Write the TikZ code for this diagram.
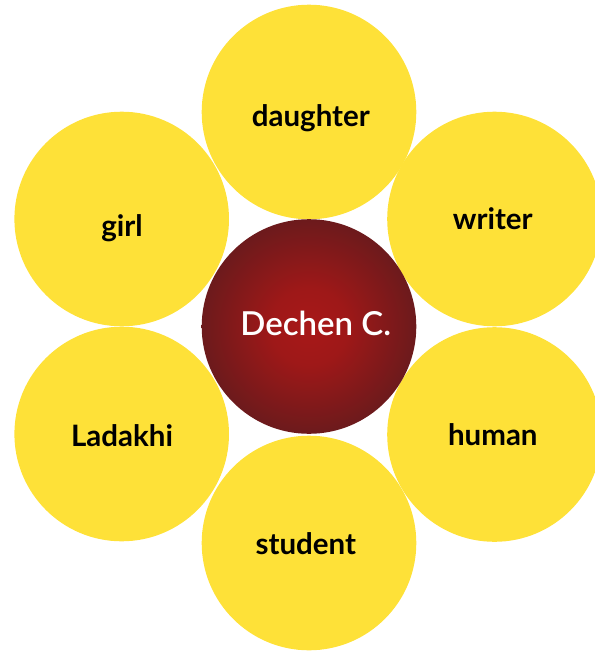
\documentclass[tikz,border=0pt]{standalone}
\usepackage{fontspec}
\setmainfont{Lato}
\newfontfamily\latosemi{Lato Semibold}
\definecolor{petal}{RGB}{254,225,56}
\definecolor{coreIn}{RGB}{168,24,24}
\definecolor{coreMid}{RGB}{158,24,24}
\definecolor{coreOut}{RGB}{108,26,28}
\pgfdeclareradialshading{coreshade}{\pgfpoint{0bp}{0bp}}{color(0bp)=(coreIn); color(9bp)=(coreMid); color(25bp)=(coreOut); color(50bp)=(coreOut)}
\tikzset{
  petalc/.style={circle, fill=petal, minimum size=214.6pt, inner sep=0pt},
  corec/.style={circle, shading=coreshade, minimum size=214.6pt, inner sep=0pt},
  lbl/.style={anchor=base, font=\fontsize{29.5}{32}\selectfont\bfseries, text=black, inner sep=0pt},
  corelbl/.style={anchor=base, font=\fontsize{33}{36}\selectfont\latosemi, text=white, inner sep=0pt}
}
\begin{document}
\begin{tikzpicture}[x=1pt,y=-1pt]
\useasboundingbox (0,0) rectangle (595,654);
\node[petalc] (daughterc) at (309,112) {};
\node[petalc] (writerc) at (494.5,219) {};
\node[petalc] (humanc) at (494.5,434.5) {};
\node[petalc] (studentc) at (309,543) {};
\node[petalc] (ladakhic) at (121.7,434) {};
\node[petalc] (girlc) at (121.7,219) {};
\node[corec] (core) at (309,326.5) {};
\node[lbl] (daughter) at (310.8,126.7) {daughter};
\node[lbl] (writer) at (492.8,229) {writer};
\node[lbl] (human) at (492.8,445) {human};
\node[lbl] (student) at (305.8,554) {student};
\node[lbl] (ladakhi) at (122,446) {Ladakhi};
\node[lbl] (girl) at (122,236.7) {girl};
\node[corelbl] (dechen) at (315.8,335) {Dechen C.};
\end{tikzpicture}
\end{document}
